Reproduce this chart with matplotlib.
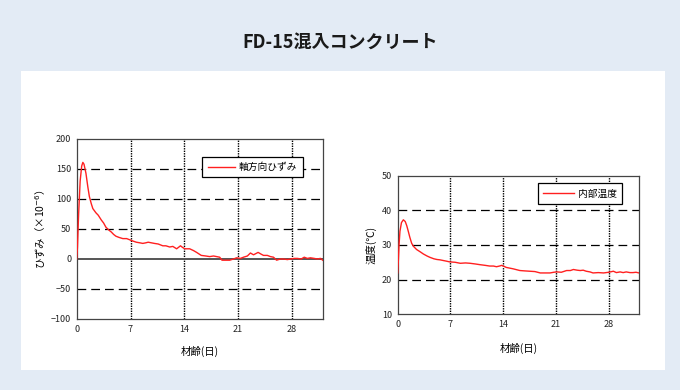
import matplotlib
matplotlib.use("Agg")
import matplotlib.pyplot as plt
from matplotlib.patches import Rectangle

plt.rcParams['font.family'] = ['Noto Sans CJK JP', 'DejaVu Sans']

title = "FD-15混入コンクリート"
xticks = [0, 7, 14, 21, 28]

# strain (x10^-6) vs age (days)
strain_day = [0, 0.1, 0.25, 0.45, 0.65, 0.8, 0.95, 1.2, 1.45, 1.65, 1.9, 2.1, 2.5, 2.8, 3.2, 3.5, 3.8,
              4.2, 4.5, 4.8, 5.1, 5.5, 6.0, 6.5, 6.9, 7.3, 7.75, 8.2, 8.6, 9.0, 9.3, 9.7, 10.1, 10.6,
              11.2, 11.6, 12.1, 12.5, 13.0, 13.5, 13.8, 14.1, 14.7, 15.2, 15.6, 16.2, 16.8, 17.3,
              17.8, 18.2, 18.6, 18.9, 19.4, 19.9, 20.4, 20.8, 21.3, 21.7, 22.2, 22.6, 23.0, 23.3,
              23.6, 24.0, 24.3, 24.8, 25.2, 25.6, 26.0, 26.5, 26.9, 27.4, 27.8, 28.3, 28.7, 29.2,
              29.6, 30.0, 30.4, 30.9, 31.3, 31.7, 32.0]
strain_val = [0, 20, 75, 130, 155, 161, 158, 143, 120, 104, 92, 84, 77, 73, 65, 60, 53,
              48, 45, 41, 38, 36, 34, 34, 32, 30, 28, 27, 26, 27, 28, 27, 26, 25,
              22, 22, 20, 21, 17, 22, 19, 17, 17, 14, 11, 6, 5, 4,
              5, 4, 3, -2, -2, -2, 0, 2, 1, 3, 5, 10, 7, 9,
              11, 8, 6, 6, 4, 3, -2, 0, 0, -1, 0, 1, 1, 0,
              3, 1, 2, 1, 0, 1, -2]

# internal temperature (deg C) vs age (days)
temp_day = [0, 0.1, 0.18, 0.3, 0.5, 0.75, 1.0, 1.2, 1.4, 1.6, 1.85, 2.1, 2.5, 3.0, 3.4, 3.9, 4.3,
            4.8, 5.2, 5.6, 6.05, 6.5, 6.9, 7.6, 8.3, 9.0, 9.6, 10.3, 10.9, 11.6, 12.2, 12.7, 13.1,
            13.5, 13.8, 14.4, 15.3, 16.2, 16.8, 17.5, 18.2, 18.9, 19.5, 20.2, 20.7, 21.1, 21.7,
            22.4, 22.9, 23.3, 23.8, 24.2, 24.6, 25.0, 25.5, 25.9, 26.6, 27.3, 28.0, 28.6, 29.0,
            29.5, 29.9, 30.3, 30.8, 31.2, 31.6, 32.0]
temp_val = [21.9, 26.0, 30.1, 34.0, 36.5, 37.3, 36.8, 35.6, 34.0, 32.3, 30.5, 29.6, 28.7, 28.0, 27.4, 26.8, 26.4,
            26.0, 25.8, 25.7, 25.5, 25.3, 25.1, 25.0, 24.7, 24.8, 24.7, 24.5, 24.3, 24.1, 23.9, 23.9, 23.7,
            23.9, 24.1, 23.5, 23.1, 22.6, 22.5, 22.4, 22.3, 21.9, 21.9, 21.9, 22.1, 22.2, 22.1,
            22.6, 22.6, 22.9, 22.7, 22.6, 22.7, 22.4, 22.2, 21.9, 22.0, 21.9, 22.1, 22.4, 22.0,
            22.2, 22.0, 22.2, 22.0, 22.0, 22.1, 21.9]

fig = plt.figure(figsize=(6.8, 3.9), dpi=100)
fig.patch.set_facecolor('#e3ebf5')
panel = Rectangle((21/680, 1-370/390), 644/680, 299/390, transform=fig.transFigure,
                  facecolor='white', edgecolor='none', zorder=-10)
fig.add_artist(panel)
fig.text(0.5, 1-42/390, title, ha='center', va='center', fontsize=13, fontweight='bold', color='#1a1a1a')

tick_fs = 6.5
red = '#ff2020'


def style(ax, ylim, yticks, hgrid, zero=False):
    ax.set_facecolor('white')
    ax.set_xlim(0, 32)
    ax.set_ylim(*ylim)
    ax.set_xticks(xticks)
    ax.set_yticks(yticks)
    ax.tick_params(axis='both', labelsize=tick_fs, length=0, pad=4, colors='#222222')
    for s in ax.spines.values():
        s.set_color('#444444')
        s.set_linewidth(0.9)
    for v in xticks[1:]:
        ax.axvline(v, color='black', linestyle=(0, (1, 0.8)), linewidth=1.0, zorder=1)
    for h in hgrid:
        ax.axhline(h, color='black', linestyle=(0, (7, 4)), linewidth=0.9, zorder=1)
    if zero:
        ax.axhline(0, color='#555555', linewidth=1.4, zorder=1)


ax1 = fig.add_axes([76.7/680, 1-319/390, 246/680, 180/390])
style(ax1, (-100, 200), [-100, -50, 0, 50, 100, 150, 200], [150, 100, 50, -50], zero=True)
ax1.plot(strain_day, strain_val, color=red, linewidth=1.0, zorder=3, label='軸方向ひずみ')
ax1.set_xlabel('材齢(日)', fontsize=7.5, labelpad=9)
ax1.set_ylabel('ひずみ（×10$^{-6}$）', fontsize=7.5, labelpad=3)
leg1 = ax1.legend(loc='center', bbox_to_anchor=(0.7145, 0.8445), fontsize=7, frameon=True,
                  fancybox=False, edgecolor='black', framealpha=1, handlelength=2.8,
                  borderpad=0.55, borderaxespad=0, handletextpad=0.4)
leg1.get_frame().set_linewidth(0.9)
leg1.set_zorder(5)

ax2 = fig.add_axes([397.7/680, 1-314/390, 241.3/680, 138/390])
style(ax2, (10, 50), [10, 20, 30, 40, 50], [40, 30, 20])
ax2.plot(temp_day, temp_val, color=red, linewidth=1.0, zorder=3, label='内部温度')
ax2.set_xlabel('材齢(日)', fontsize=7.5, labelpad=10)
ax2.set_ylabel('温度(℃)', fontsize=7.5, labelpad=4)
leg2 = ax2.legend(loc='center', bbox_to_anchor=(0.7555, 0.873), fontsize=7, frameon=True,
                  fancybox=False, edgecolor='black', framealpha=1, handlelength=3.2,
                  borderpad=0.55, borderaxespad=0, handletextpad=0.4)
leg2.get_frame().set_linewidth(0.9)
leg2.set_zorder(5)

fig.savefig('out.png', dpi=100, facecolor=fig.get_facecolor())
